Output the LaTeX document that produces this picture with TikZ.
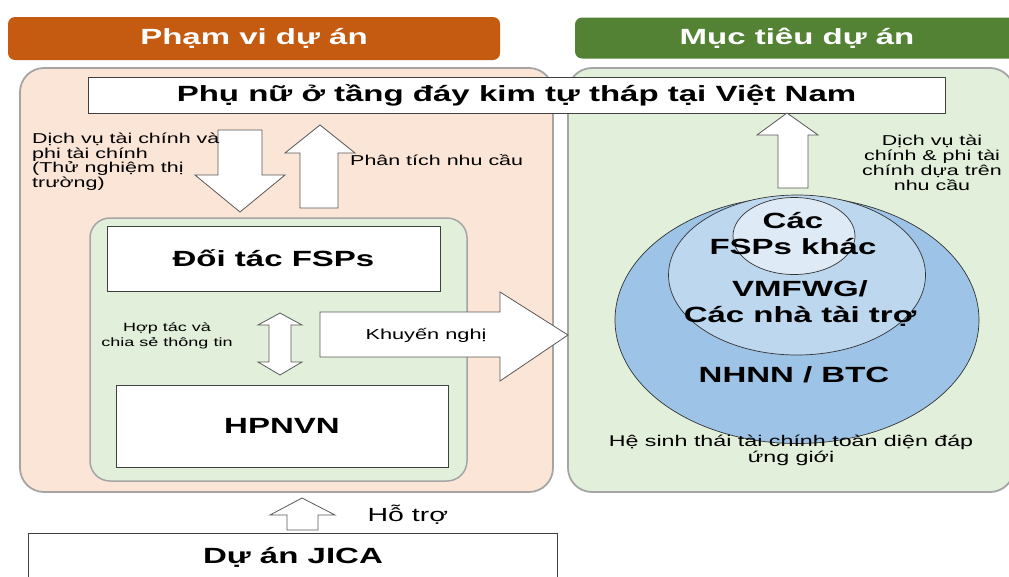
\documentclass[tikz,border=0pt]{standalone}
\usepackage{fontspec}
\setmainfont{Liberation Sans}[FakeStretch=1.5]
\usetikzlibrary{shapes.geometric}
\definecolor{hdrorange}{HTML}{C55A11}
\definecolor{hdrgreen}{HTML}{548235}
\definecolor{peach}{HTML}{FBE5D6}
\definecolor{lgreen}{HTML}{E2EFDA}
\definecolor{blueA}{HTML}{9DC3E6}
\definecolor{blueB}{HTML}{BDD7EE}
\definecolor{blueC}{HTML}{DEEBF7}
\definecolor{panelline}{HTML}{A5A5A5}
\begin{document}
\begin{tikzpicture}[x=1pt,y=-1pt,
  header/.style={fill=#1, rounded corners=7pt, text=white, font=\bfseries\fontsize{22}{26}\selectfont},
  panel/.style={draw=panelline, line width=1.8pt, fill=#1, rounded corners=24pt},
  wbox/.style={draw=black!75, fill=white, line width=0.9pt, font=\bfseries\fontsize{22}{26}\selectfont},
  blockarrow/.style={draw=black!65, fill=white, line width=0.8pt, line join=miter},
  small/.style={font=\fontsize{14.3}{14.5}\selectfont, inner sep=0pt},
  tiny/.style={font=\fontsize{12}{15}\selectfont, inner sep=0pt},
  ell/.style={draw=black!80, line width=0.7pt, fill=#1},
  bigtxt/.style={font=\bfseries\fontsize{22}{26}\selectfont, inner sep=0pt}
]
\useasboundingbox (0,0) rectangle (1009,576);
\clip (0,0) rectangle (1009,576);

% headers
\node[header=hdrorange, minimum width=492pt, minimum height=43pt] (hl) at (254,38.5) {Phạm vi dự án};
\node[header=hdrgreen, minimum width=450pt, minimum height=41pt] (hr) at (800,38) {};
\node[text=white, font=\bfseries\fontsize{22}{26}\selectfont] (hrt) at (797,38) {Mục tiêu dự án};

% panels
\draw[panel=peach] (20,68) rectangle (553,492);
\draw[panel=lgreen] (568,68) rectangle (1014,492);

% title box
\node[wbox, minimum width=857pt, minimum height=36pt] (title) at (516.5,95) {Phụ nữ ở tầng đáy kim tự tháp tại Việt Nam};

% inner green box
\draw[draw=panelline, line width=1.5pt, fill=lgreen, rounded corners=20pt] (90,218) rectangle (467,481);
\node[wbox, minimum width=333pt, minimum height=65pt] (fsp) at (273.5,258.5) {Đối tác FSPs};
\node[wbox, minimum width=332pt, minimum height=82pt] (hpn) at (282,426) {HPNVN};

% arrows left
\draw[blockarrow] (218,130) -- (262,130) -- (262,175) -- (285,175) -- (240,212) -- (195,175) -- (218,175) -- cycle;
\draw[blockarrow] (320,125) -- (355,153) -- (338,153) -- (338,208) -- (300,208) -- (300,153) -- (285,153) -- cycle;
\draw[blockarrow] (280,313) -- (302,325) -- (291,325) -- (291,362) -- (302,362) -- (280,375) -- (258,362) -- (269,362) -- (269,325) -- (258,325) -- cycle;
\draw[blockarrow] (320,312) -- (500,312) -- (500,292) -- (568,335) -- (500,381) -- (500,357) -- (320,357) -- cycle;
\node[font=\fontsize{14.5}{16}\selectfont] (kn) at (426,335) {Khuyến nghị};

% left texts
\node[small, anchor=north west, align=left] (dv) at (32,133) {Dịch vụ tài chính và\\phi tài chính\\(Thử nghiệm thị\\trường)};
\node[small, anchor=west] (pt) at (350,160) {Phân tích nhu cầu};
\node[tiny, align=center] (ht) at (167,336) {Hợp tác và\\chia sẻ thông tin};

% bottom
\draw[blockarrow] (302,498) -- (335,515) -- (318,515) -- (318,530) -- (287,530) -- (287,515) -- (270,515) -- cycle;
\node[font=\fontsize{19}{22}\selectfont, anchor=west] (hotro) at (364,515) {Hỗ trợ};
\node[wbox, minimum width=529pt, minimum height=50pt, anchor=north west] (jica) at (28,533) {};
\node[font=\bfseries\fontsize{22}{26}\selectfont] (jicat) at (293,557) {Dự án JICA};

% right side
\draw[blockarrow] (787,113) -- (818,135) -- (808,135) -- (808,188) -- (778,188) -- (778,135) -- (757,135) -- cycle;
\node[align=center, inner sep=0pt, font=\fontsize{14.3}{15}\selectfont] (dvr) at (932,163) {Dịch vụ tài\\chính \& phi tài\\chính dựa trên\\nhu cầu};

\node[ell=blueA, ellipse, minimum width=364pt, minimum height=247pt, inner sep=0pt] (e1) at (797,320) {};
\node[ell=blueB, ellipse, minimum width=257pt, minimum height=160pt, inner sep=0pt] (e2) at (797,275) {};
\node[ell=blueC, ellipse, minimum width=122pt, minimum height=77pt, inner sep=0pt] (e3) at (794,236) {};
\node[bigtxt, align=center] (t3) at (793,234) {Các\\FSPs khác};
\node[bigtxt, align=center] (t2) at (800,303) {VMFWG/\\Các nhà tài trợ};
\node[bigtxt] (t1) at (794,375) {NHNN / BTC};
\node[align=center, inner sep=0pt, font=\fontsize{15.5}{16}\selectfont] (eco) at (791,450) {Hệ sinh thái tài chính toàn diện đáp\\ứng giới};
\end{tikzpicture}
\end{document}
